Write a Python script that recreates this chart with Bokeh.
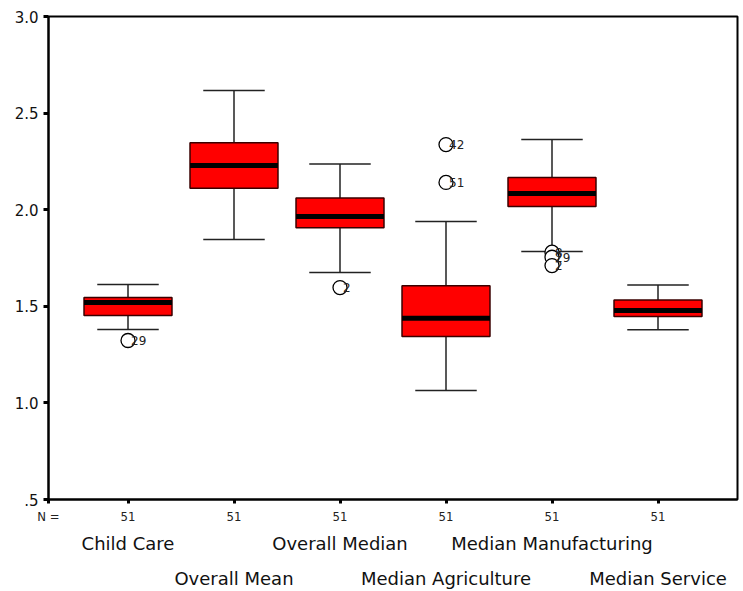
from bokeh.plotting import figure
from bokeh.models import FixedTicker, LinearAxis, ColumnDataSource, Range1d
from bokeh.embed import file_html
from bokeh.resources import INLINE

categories = ["Child Care", "Overall Mean", "Overall Median",
              "Median Agriculture", "Median Manufacturing", "Median Service"]
n_counts = [51, 51, 51, 51, 51, 51]
whisker_low = [1.380, 1.846, 1.675, 1.064, 1.784, 1.378]
q1 = [1.452, 2.111, 1.906, 1.344, 2.017, 1.447]
median = [1.520, 2.229, 1.965, 1.438, 2.084, 1.478]
q3 = [1.546, 2.346, 2.060, 1.606, 2.167, 1.532]
whisker_high = [1.613, 2.617, 2.236, 1.939, 2.363, 1.610]

outlier_cat = [0, 2, 3, 3, 4, 4, 4]
outlier_val = [1.323, 1.597, 2.337, 2.141, 1.780, 1.754, 1.711]
outlier_lab = ["29", "2", "42", "51", "8", "29", "2"]

y_ticks = [0.5, 1.0, 1.5, 2.0, 2.5, 3.0]
y_tick_labels = [".5", "1.0", "1.5", "2.0", "2.5", "3.0"]

xs = list(range(len(categories)))
x_start, x_end = -0.75, len(categories) - 0.25

p = figure(width=743, height=591, output_backend="svg", toolbar_location=None,
           x_range=Range1d(x_start, x_end), y_range=Range1d(0.5, 3.0),
           min_border_left=48, min_border_right=6, min_border_top=16,
           min_border_bottom=92, x_axis_location=None, y_axis_location=None)
p.grid.visible = False
p.outline_line_color = "black"
p.outline_line_width = 2
p.background_fill_color = "white"
p.border_fill_color = "white"

src = ColumnDataSource(dict(x=xs, lo=whisker_low, q1=q1, med=median, q3=q3, hi=whisker_high))

# whisker stems
p.segment(x0="x", y0="q3", x1="x", y1="hi", source=src, line_color="#222222", line_width=1.5)
p.segment(x0="x", y0="lo", x1="x", y1="q1", source=src, line_color="#222222", line_width=1.5)
# caps
cap = 0.29
p.segment(x0=[x - cap for x in xs], y0=whisker_high, x1=[x + cap for x in xs], y1=whisker_high,
          line_color="#222222", line_width=1.5)
p.segment(x0=[x - cap for x in xs], y0=whisker_low, x1=[x + cap for x in xs], y1=whisker_low,
          line_color="#222222", line_width=1.5)
# boxes
p.vbar(x="x", width=0.83, bottom="q1", top="q3", source=src,
       fill_color="#ff0000", line_color="#3a0000", line_width=1.5)
# medians
hw = 0.415
p.segment(x0=[x - hw for x in xs], y0=median, x1=[x + hw for x in xs], y1=median,
          line_color="black", line_width=5)

# outliers
osrc = ColumnDataSource(dict(x=outlier_cat, y=outlier_val, t=outlier_lab))
p.scatter(x="x", y="y", source=osrc, marker="circle", size=14,
          fill_color="white", line_color="black", line_width=1.3)
p.text(x="x", y="y", text="t", source=osrc, x_offset=3, text_align="left",
       text_baseline="middle", text_font_size="12px", text_color="#222222",
       text_font={"value": "DejaVu Sans"})

# y axis
yax = LinearAxis(ticker=FixedTicker(ticks=y_ticks),
                 major_label_overrides={t: l for t, l in zip(y_ticks, y_tick_labels)})
yax.major_label_text_font = "DejaVu Sans"
yax.major_label_text_font_size = "15px"
yax.major_label_text_color = "#111111"
yax.major_tick_in = 0
yax.major_tick_out = 5
yax.major_tick_line_width = 3
yax.minor_tick_line_color = None
yax.axis_line_width = 2
yax.major_label_standoff = 5
p.add_layout(yax, "left")

narrow = "'Liberation Sans Narrow', 'DejaVu Sans Condensed', sans-serif"

# N axis (the "N =" caption sits at the frame's left edge)
n_overrides = {x: str(n) for x, n in zip(xs, n_counts)}
n_overrides[x_start] = "N ="
nax = LinearAxis(ticker=FixedTicker(ticks=[x_start] + xs),
                 major_label_overrides=n_overrides)
nax.major_label_text_font = narrow
nax.major_label_text_font_size = "13px"
nax.major_label_text_color = "#222222"
nax.major_tick_in = 0
nax.major_tick_out = 4
nax.major_tick_line_width = 3
nax.minor_tick_line_color = None
nax.axis_line_width = 2
nax.major_label_standoff = 5
p.add_layout(nax, "below")

rows = [[0, 2, 4], [1, 3, 5]]
standoffs = [0, 5]
for row, so in zip(rows, standoffs):
    ax = LinearAxis(ticker=FixedTicker(ticks=row),
                    major_label_overrides={i: categories[i] for i in row})
    ax.major_label_text_font = "DejaVu Sans"
    ax.major_label_text_font_size = "18px"
    ax.major_label_text_color = "#111111"
    ax.major_tick_line_color = None
    ax.minor_tick_line_color = None
    ax.axis_line_color = None
    ax.major_label_standoff = so
    p.add_layout(ax, "below")

open("out.html", "w").write(file_html(p, INLINE))
